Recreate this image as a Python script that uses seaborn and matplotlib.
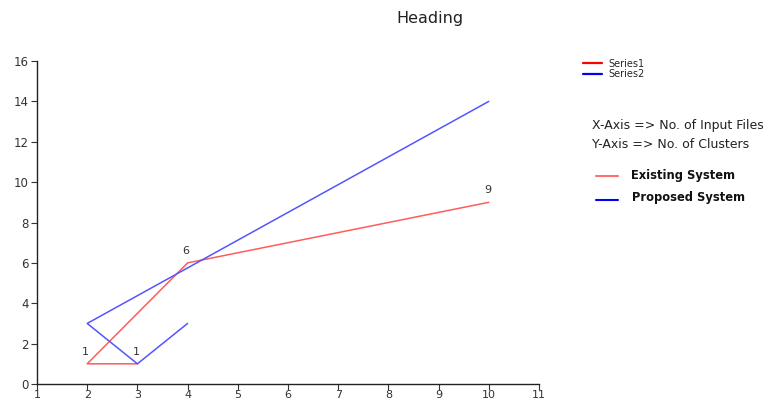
import pandas as pd
import matplotlib.pyplot as plt
import seaborn as sns
from matplotlib.lines import Line2D

# Chart values (points in drawing order)
series1_x = [3, 2, 4, 10]
series1_y = [1, 1, 6, 9]
series2_x = [4, 3, 2, 10]
series2_y = [3, 1, 3, 14]
x_ticks = list(range(1, 12))
y_ticks = list(range(0, 17, 2))


def main():
    sns.set_style("ticks")
    plt.rcParams['font.family'] = ['DejaVu Sans']

    fig = plt.figure(figsize=(7.63, 4.03), dpi=100)
    ax = fig.add_axes([37 / 763, 1 - 384 / 403, (539 - 37) / 763, (384 - 61) / 403])

    df1 = pd.DataFrame({'x': series1_x, 'y': series1_y})
    df2 = pd.DataFrame({'x': series2_x, 'y': series2_y})

    sns.lineplot(data=df1, x='x', y='y', sort=False, estimator=None, ax=ax,
                 color='#ff5c5c', linewidth=1.1)
    sns.lineplot(data=df2, x='x', y='y', sort=False, estimator=None, ax=ax,
                 color='#5555ff', linewidth=1.1)

    # data labels on Series1
    for xv, yv in zip(series1_x, series1_y):
        ax.annotate(str(yv), (xv, yv), xytext=(-1, 5), textcoords='offset points',
                    ha='center', va='bottom', fontsize=8, color='#333333')

    ax.set_xlim(1, 11)
    ax.set_ylim(0, 16)
    ax.set_xticks(x_ticks)
    ax.set_yticks(y_ticks)
    ax.set_xlabel('')
    ax.set_ylabel('')
    ax.tick_params(axis='y', labelsize=8.5, length=4, width=0.8, colors='#333333', pad=2)
    ax.tick_params(axis='x', labelsize=8, length=4, width=0.8, colors='#333333', pad=0.5)
    sns.despine(ax=ax)
    for s in ['left', 'bottom']:
        ax.spines[s].set_color('#222222')
        ax.spines[s].set_linewidth(1)

    fig.text(430 / 763, 1 - 19 / 403, 'Heading', ha='center', va='center',
             fontsize=11.5, color='#222222')

    # Series legend
    handles = [Line2D([], [], color='red', lw=1.6), Line2D([], [], color='blue', lw=1.6)]
    fig.legend(handles, ['Series1', 'Series2'], loc='upper left',
               bbox_to_anchor=(578 / 763, 1 - 54 / 403), frameon=False,
               fontsize=7, handlelength=2.0, handletextpad=0.6, labelspacing=0.05,
               borderpad=0)

    fig.text(592 / 763, 1 - 126 / 403, 'X-Axis => No. of Input Files', fontsize=9,
             va='center', color='#222222')
    fig.text(592 / 763, 1 - 145 / 403, 'Y-Axis => No. of Clusters', fontsize=9,
             va='center', color='#222222')

    fig.add_artist(Line2D([596 / 763, 618 / 763], [1 - 176 / 403] * 2,
                          color='#ff7070', lw=1.5))
    fig.text(631 / 763, 1 - 176 / 403, 'Existing System', fontsize=8.3,
             fontweight='bold', va='center', color='#111111')
    fig.add_artist(Line2D([596 / 763, 618 / 763], [1 - 200 / 403] * 2,
                          color='blue', lw=1.5))
    fig.text(632 / 763, 1 - 198 / 403, 'Proposed System', fontsize=8.3,
             fontweight='bold', va='center', color='#111111')

    fig.savefig('out.png', dpi=100)


if __name__ == '__main__':
    main()
